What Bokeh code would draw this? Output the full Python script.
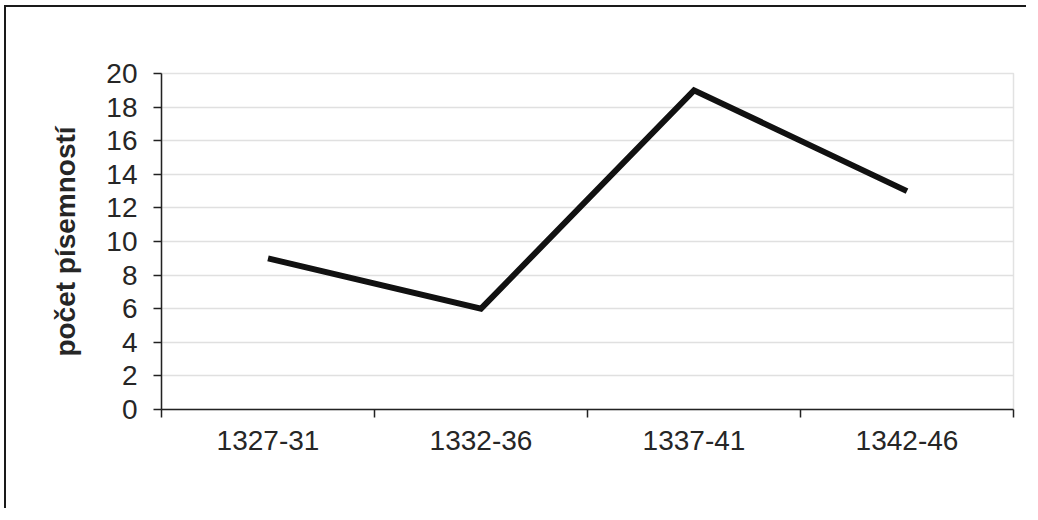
from bokeh.plotting import figure
from bokeh.models import FixedTicker, Range1d
from bokeh.embed import file_html
from bokeh.resources import INLINE

# Data
categories = ["1327-31", "1332-36", "1337-41", "1342-46"]
counts = [9, 6, 19, 13]
y_ticks = [0, 2, 4, 6, 8, 10, 12, 14, 16, 18, 20]
y_label = "počet písemností"

FONT = "Liberation Sans"
TEXT_COLOR = "#262626"
AXIS_COLOR = "#222222"

n = len(categories)
xs = [i + 0.5 for i in range(n)]

p = figure(width=1022, height=503, output_backend="svg", toolbar_location=None,
           x_range=Range1d(0, n), y_range=Range1d(0, 20),
           min_border_left=155, min_border_top=66, min_border_right=15, min_border_bottom=101)
p.outline_line_color = "#e2e2e2"
p.outline_line_width = 1.5
p.background_fill_color = "white"
p.border_fill_color = "white"

p.line(xs, counts, line_color="#111111", line_width=6, line_join="miter", line_cap="butt")

# x axis
xa = p.xaxis[0]
xa.ticker = FixedTicker(ticks=xs, minor_ticks=list(range(n + 1)))
xa.major_label_overrides = {x: c for x, c in zip(xs, categories)}
xa.major_tick_line_color = None
xa.major_tick_out = 8
xa.major_tick_in = 0
xa.minor_tick_line_color = AXIS_COLOR
xa.minor_tick_line_width = 1.5
xa.minor_tick_out = 8
xa.minor_tick_in = 0
xa.axis_line_color = AXIS_COLOR
xa.axis_line_width = 1.5
xa.major_label_text_font = FONT
xa.major_label_text_font_size = "28px"
xa.major_label_text_color = TEXT_COLOR
xa.major_label_standoff = 13

# y axis
ya = p.yaxis[0]
ya.ticker = FixedTicker(ticks=y_ticks, minor_ticks=[])
ya.major_tick_line_color = AXIS_COLOR
ya.major_tick_line_width = 1.5
ya.major_tick_out = 8
ya.major_tick_in = 0
ya.axis_line_color = AXIS_COLOR
ya.axis_line_width = 1.5
ya.major_label_text_font = FONT
ya.major_label_text_font_size = "28px"
ya.major_label_text_color = TEXT_COLOR
ya.major_label_standoff = 16
ya.axis_label = y_label
ya.axis_label_text_font = FONT
ya.axis_label_text_font_size = "28px"
ya.axis_label_text_font_style = "bold"
ya.axis_label_text_color = TEXT_COLOR
ya.axis_label_standoff = 22

p.xgrid.grid_line_color = None
p.ygrid.ticker = FixedTicker(ticks=y_ticks)
p.ygrid.grid_line_color = "#e0e0e0"
p.ygrid.grid_line_width = 1.5

p.styles = {"border-top": "2px solid #1a1a1a", "border-left": "2px solid #1a1a1a",
            "margin-top": "5px", "margin-left": "4px"}

open("out.html", "w").write(file_html(p, INLINE))
